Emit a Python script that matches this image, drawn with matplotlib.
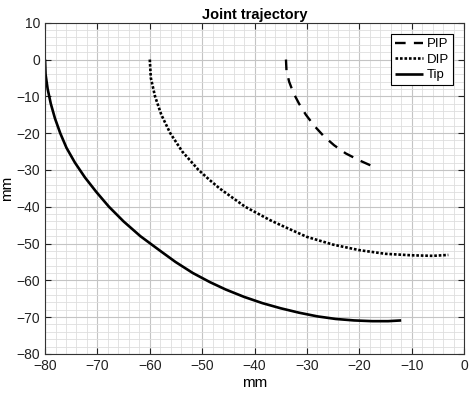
import matplotlib
matplotlib.use("Agg")
import matplotlib.pyplot as plt
from matplotlib.ticker import MultipleLocator

plt.rcParams['font.family'] = ['Liberation Sans', 'DejaVu Sans']

# joint trajectories (mm)
pip_x = [-34.0, -33.9, -33.4, -32.6, -31.5, -30.2, -28.6, -26.8, -24.8, -22.6, -20.0, -17.0]
pip_y = [0.0, -3.0, -6.0, -9.0, -12.0, -15.0, -18.0, -20.8, -23.3, -25.5, -27.4, -29.3]

dip_x = [-60.0, -59.8, -59.0, -57.8, -56.1, -53.8, -50.7, -48.6, -46.7, -41.8, -37.1, -35.0,
         -30.0, -25.0, -20.0, -15.0, -10.0, -6.0, -3.0]
dip_y = [0.0, -5.0, -10.0, -15.0, -20.0, -25.0, -30.0, -32.7, -35.0, -40.0, -43.6, -45.0,
         -48.2, -50.3, -51.8, -52.8, -53.2, -53.35, -53.1]

tip_x = [-80.0, -79.9, -79.5, -78.9, -78.1, -77.1, -75.9, -74.3, -72.4, -70.2, -67.8, -65.0,
         -61.8, -58.0, -55.1, -51.8, -48.5, -45.5, -42.0, -38.5, -35.0, -31.5, -28.0, -24.5,
         -21.0, -17.5, -14.5, -12.0]
tip_y = [0.0, -4.0, -8.0, -12.0, -16.0, -20.0, -24.0, -28.0, -32.0, -36.0, -40.0, -44.0,
         -48.0, -52.0, -55.0, -58.0, -60.5, -62.5, -64.5, -66.2, -67.6, -68.8, -69.8, -70.5,
         -70.9, -71.1, -71.1, -70.9]

fig = plt.figure(figsize=(4.74, 3.99), dpi=100)
ax = fig.add_axes([0.095, 0.113, 0.884, 0.830])

ax.plot(pip_x, pip_y, color='black', lw=1.7, linestyle=(0, (4.5, 3.5)), label='PIP')
ax.plot(dip_x, dip_y, color='black', lw=1.9, linestyle=(0, (1, 0.7)), label='DIP')
ax.plot(tip_x, tip_y, color='black', lw=1.9, linestyle='-', label='Tip',
        solid_capstyle='butt')

ax.set_xlim(-80, 0)
ax.set_ylim(-80, 10)
ax.xaxis.set_major_locator(MultipleLocator(10))
ax.yaxis.set_major_locator(MultipleLocator(10))
ax.xaxis.set_minor_locator(MultipleLocator(2))
ax.yaxis.set_minor_locator(MultipleLocator(2))
ax.grid(which='major', color='#c4c4c4', lw=0.8)
ax.grid(which='minor', color='#dedede', lw=0.6)
ax.set_axisbelow(True)

ax.tick_params(which='major', direction='in', length=4, top=True, right=True,
               labelsize=10, colors='#222222')
ax.tick_params(which='minor', length=0)
for s in ax.spines.values():
    s.set_color('#333333')
    s.set_linewidth(0.8)

ax.set_title('Joint trajectory', fontsize=10.5, fontweight='bold', pad=3)
ax.set_xlabel('mm', fontsize=11, labelpad=2)
ax.set_ylabel('mm', fontsize=11, labelpad=2)

leg = ax.legend(loc='upper right', fontsize=9.5, frameon=True, fancybox=False,
                edgecolor='black', framealpha=1, handlelength=2.1, handletextpad=0.3,
                borderpad=0.3, labelspacing=0.25, borderaxespad=0.85)
leg.get_frame().set_linewidth(0.8)

fig.savefig('out.png', dpi=100)
